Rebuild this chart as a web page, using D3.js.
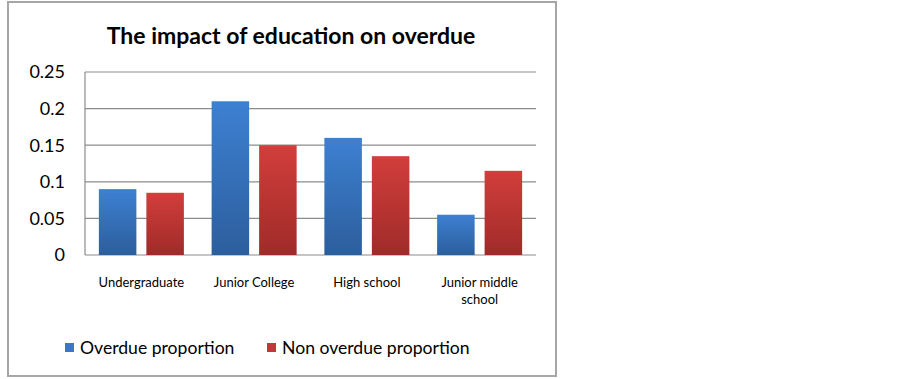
<!DOCTYPE html>
<html lang="en">
<head>
<meta charset="UTF-8">
<title>The impact of education on overdue</title>
<script src="https://d3js.org/d3.v7.min.js"></script>
<style>
  body { margin: 0; background: #fff; }
  text { font-family: Lato, "Open Sans", sans-serif; fill: #000; }
</style>
</head>
<body>
<svg width="903" height="379"></svg>
<script>
// data
var categories = ["Undergraduate", "Junior College", "High school", "Junior middle school"];
var seriesNames = ["Overdue proportion", "Non overdue proportion"];
var overdue = [0.09, 0.21, 0.16, 0.055];
var nonOverdue = [0.085, 0.15, 0.135, 0.115];
var yTicks = [0, 0.05, 0.1, 0.15, 0.2, 0.25];

var svg = d3.select("svg");

// outer chart frame
svg.append("rect")
    .attr("x", 8).attr("y", 2)
    .attr("width", 548).attr("height", 374)
    .attr("fill", "white")
    .attr("stroke", "#a6a6a6")
    .attr("stroke-width", 2);

var plotLeft = 85, plotRight = 536, plotTop = 72, plotBottom = 255;

var y = d3.scaleLinear().domain([0, 0.25]).range([plotBottom, plotTop]);
var x0 = d3.scaleBand().domain(categories).range([plotLeft, plotRight])
    .paddingInner(0.246).paddingOuter(0.123);
var x1 = d3.scaleBand().domain(seriesNames).range([0, x0.bandwidth()])
    .paddingInner(0.21);

// gradients
var defs = svg.append("defs");
var grads = [["gBlue", "#3d80d2", "#2c5e9c"], ["gRed", "#d23e3b", "#9f2b29"]];
grads.forEach(function (g) {
    var lg = defs.append("linearGradient").attr("id", g[0])
        .attr("x1", 0).attr("y1", 0).attr("x2", 0).attr("y2", 1);
    lg.append("stop").attr("offset", "0%").attr("stop-color", g[1]);
    lg.append("stop").attr("offset", "100%").attr("stop-color", g[2]);
});
var fills = ["url(#gBlue)", "url(#gRed)"];
var legendColors = ["#3a78c6", "#c0383a"];

// gridlines
svg.append("g").selectAll("line")
    .data(yTicks)
    .enter().append("line")
    .attr("x1", plotLeft).attr("x2", plotRight)
    .attr("y1", d => y(d)).attr("y2", d => y(d))
    .attr("stroke", "#8c8c8c").attr("stroke-width", 1.2);

// y axis line
svg.append("line")
    .attr("x1", plotLeft).attr("x2", plotLeft)
    .attr("y1", plotTop).attr("y2", plotBottom)
    .attr("stroke", "#8c8c8c").attr("stroke-width", 1.2);

// y tick labels
svg.append("g").selectAll("text")
    .data(yTicks)
    .enter().append("text")
    .attr("x", 65)
    .attr("y", d => y(d))
    .attr("dy", "0.35em")
    .attr("text-anchor", "end")
    .style("font-size", "18px")
    .text(d => d3.format("")(d));

// bars
var rows = categories.map((c, i) => ({ cat: c, vals: [overdue[i], nonOverdue[i]] }));
var groups = svg.append("g").selectAll("g")
    .data(rows)
    .enter().append("g")
    .attr("transform", d => "translate(" + x0(d.cat) + ",0)");

groups.selectAll("rect")
    .data(d => d.vals.map((v, j) => ({ name: seriesNames[j], v: v, j: j })))
    .enter().append("rect")
    .attr("x", d => x1(d.name))
    .attr("y", d => y(d.v))
    .attr("width", x1.bandwidth())
    .attr("height", d => plotBottom - y(d.v))
    .attr("fill", d => fills[d.j]);

// x labels (wrap the long one)
var xLabels = svg.append("g").selectAll("text")
    .data(categories)
    .enter().append("text")
    .attr("x", d => x0(d) + x0.bandwidth() / 2)
    .attr("y", 287)
    .attr("text-anchor", "middle")
    .style("font-size", "13px");
xLabels.each(function (d) {
    var t = d3.select(this);
    var lines = d === "Junior middle school" ? ["Junior middle", "school"] : [d];
    lines.forEach(function (l, i) {
        t.append("tspan")
            .attr("x", x0(d) + x0.bandwidth() / 2)
            .attr("dy", i === 0 ? 0 : 17)
            .text(l);
    });
});

// title
svg.append("text")
    .attr("x", 291).attr("y", 44)
    .attr("text-anchor", "middle")
    .style("font-size", "23px")
    .style("font-weight", "bold")
    .text("The impact of education on overdue");

// legend
var legendX = [65, 267];
var legend = svg.append("g").selectAll("g")
    .data(seriesNames)
    .enter().append("g")
    .attr("transform", (d, i) => "translate(" + legendX[i] + ",343)");
legend.append("rect")
    .attr("width", 9).attr("height", 9)
    .attr("fill", (d, i) => legendColors[i]);
legend.append("text")
    .attr("x", 15).attr("y", 5)
    .attr("dy", "0.35em")
    .style("font-size", "17.6px")
    .text(d => d);
</script>
</body>
</html>
